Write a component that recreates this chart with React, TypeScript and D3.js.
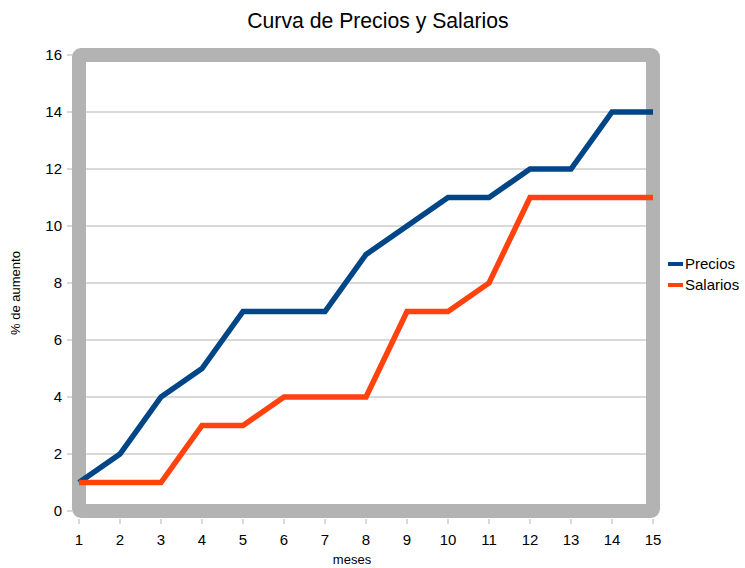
import React from "react";
import * as d3 from "d3";

const months = [1, 2, 3, 4, 5, 6, 7, 8, 9, 10, 11, 12, 13, 14, 15];
const precios = [1, 2, 4, 5, 7, 7, 7, 9, 10, 11, 11, 12, 12, 14, 14];
const salarios = [1, 1, 1, 3, 3, 4, 4, 4, 7, 7, 8, 11, 11, 11, 11];
const yTicks = [0, 2, 4, 6, 8, 10, 12, 14, 16];
const seriesNames = ["Precios", "Salarios"];
const seriesColors = ["#004586", "#ff420e"];

const W = 745;
const H = 568;
const FONT = "'Liberation Sans', Arial, sans-serif";

export default function App() {
  const x = d3.scaleLinear().domain([1, 15]).range([79, 653]);
  const y = d3.scaleLinear().domain([0, 16]).range([511, 55]);
  const line = d3
    .line<number>()
    .x((_, i) => x(months[i]))
    .y((d) => y(d));
  const series = [precios, salarios];

  return (
    <svg
      width={W}
      height={H}
      style={{ position: "absolute", left: 0, top: 0, background: "#fff" }}
      fontFamily={FONT}
    >
      <text x={378} y={28} fontSize={21.2} textAnchor="middle" fill="#000">
        Curva de Precios y Salarios
      </text>
      {/* gridlines */}
      {yTicks.map((t) => (
        <line key={"g" + t} x1={x(1)} x2={x(15)} y1={y(t)} y2={y(t)} stroke="#b3b3b3" strokeWidth={1} />
      ))}
      {/* frame */}
      <rect
        x={x(1)}
        y={y(16)}
        width={x(15) - x(1)}
        height={y(0) - y(16)}
        fill="none"
        stroke="#b3b3b3"
        strokeWidth={14}
        rx={2}
      />
      {/* y ticks */}
      {yTicks.map((t) => (
        <g key={"y" + t}>
          <line x1={67} x2={72} y1={y(t)} y2={y(t)} stroke="#b3b3b3" />
          <text x={62} y={y(t)} dy="0.35em" fontSize={15} textAnchor="end" fill="#000">
            {t}
          </text>
        </g>
      ))}
      {/* x ticks */}
      {months.map((m) => (
        <g key={"x" + m}>
          <line x1={x(m)} x2={x(m)} y1={519} y2={524} stroke="#b3b3b3" />
          <text x={x(m)} y={545} fontSize={15} textAnchor="middle" fill="#000">
            {m}
          </text>
        </g>
      ))}
      <text x={352} y={564} fontSize={13} textAnchor="middle" fill="#000">
        meses
      </text>
      <text
        transform={`translate(20,${293}) rotate(-90)`}
        fontSize={13}
        textAnchor="middle"
        fill="#000"
      >
        % de aumento
      </text>
      {/* series */}
      {series.map((s, i) => (
        <path
          key={"s" + i}
          d={line(s) || ""}
          fill="none"
          stroke={seriesColors[i]}
          strokeWidth={5.5}
          strokeLinejoin="miter"
        />
      ))}
      {/* legend */}
      {seriesNames.map((n, i) => (
        <g key={"l" + i} transform={`translate(0,${264 + i * 21})`}>
          <line x1={668} x2={683} y1={0} y2={0} stroke={seriesColors[i]} strokeWidth={4} />
          <text x={685} y={0} dy="0.35em" fontSize={15} fill="#000">
            {n}
          </text>
        </g>
      ))}
    </svg>
  );
}
